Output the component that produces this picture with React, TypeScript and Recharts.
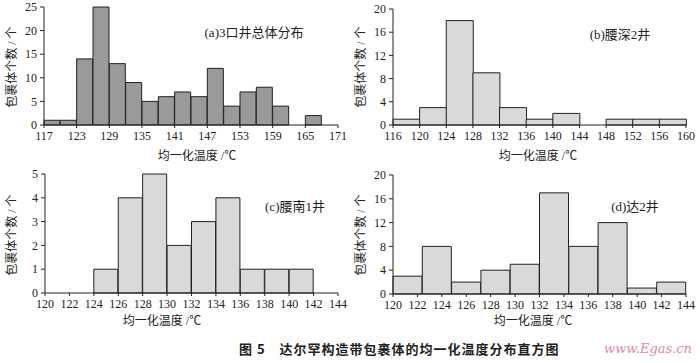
import { BarChart, Bar, XAxis, YAxis } from 'recharts';

// bin start temperatures (℃) and inclusion counts
const aStarts = [117, 120, 123, 126, 129, 132, 135, 138, 141, 144, 147, 150, 153, 156, 159, 162, 165, 168];
const aCounts = [1, 1, 14, 25, 13, 9, 5, 6, 7, 6, 12, 4, 7, 8, 4, 0, 2, 0];
const aTicksX = [117, 123, 129, 135, 141, 147, 153, 159, 165, 171];
const aTicksY = [0, 5, 10, 15, 20, 25];

const bStarts = [116, 120, 124, 128, 132, 136, 140, 144, 148, 152, 156];
const bCounts = [1, 3, 18, 9, 3, 1, 2, 0, 1, 1, 1];
const bTicksX = [116, 120, 124, 128, 132, 136, 140, 144, 148, 152, 156, 160];
const bTicksY = [0, 4, 8, 12, 16, 20];

const cStarts = [120, 122, 124, 126, 128, 130, 132, 134, 136, 138, 140, 142];
const cCounts = [0, 0, 1, 4, 5, 2, 3, 4, 1, 1, 1, 0];
const cTicksX = [120, 122, 124, 126, 128, 130, 132, 134, 136, 138, 140, 142, 144];
const cTicksY = [0, 1, 2, 3, 4, 5];

const dStarts = [120, 122.4, 124.8, 127.2, 129.6, 132, 134.4, 136.8, 139.2, 141.6];
const dCounts = [3, 8, 2, 4, 5, 17, 8, 12, 1, 2];
const dTicksX = [120, 122, 124, 126, 128, 130, 132, 134, 136, 138, 140, 142, 144];
const dTicksY = [0, 4, 8, 12, 16, 20];

const yTitle = '包裹体个数 / 个';
const xTitle = '均一化温度 /℃';
const caption = '图 5　达尔罕构造带包裹体的均一化温度分布直方图';

const serif = '"Liberation Serif", "Noto Sans CJK SC", serif';
const tickStyle = { fontSize: 12, fill: '#222', fontFamily: serif };

interface PanelProps {
  starts: number[];
  counts: number[];
  binWidth: number;
  ticksX: number[];
  ticksY: number[];
  fill: string;
  left: number;
  top: number;
  margin: { top: number; right: number; bottom: number; left: number };
}

function Panel({ starts, counts, binWidth, ticksX, ticksY, fill, left, top, margin }: PanelProps) {
  const data = starts.map((s, i) => ({ mid: s + binWidth / 2, count: counts[i] }));
  return (
    <div style={{ position: 'absolute', left, top }}>
      <BarChart width={350} height={165} data={data} margin={margin} barCategoryGap={0} barGap={0}>
        <XAxis
          type="number"
          dataKey="mid"
          domain={[ticksX[0], ticksX[ticksX.length - 1]]}
          ticks={ticksX}
          interval={0}
          tick={tickStyle}
          tickSize={3}
          tickMargin={3}
          height={20}
          stroke="#222"
        />
        <YAxis
          domain={[ticksY[0], ticksY[ticksY.length - 1]]}
          ticks={ticksY}
          interval={0}
          tick={tickStyle}
          tickSize={4}
          tickMargin={3}
          width={30}
          stroke="#222"
        />
        <Bar dataKey="count" fill={fill} stroke="#222" strokeWidth={1} isAnimationActive={false} />
      </BarChart>
    </div>
  );
}

function Text({ x, y, size, children, rotate, style }: { x: number; y: number; size: number; children: string; rotate?: boolean; style?: React.CSSProperties }) {
  return (
    <div
      style={{
        position: 'absolute',
        left: x - 100,
        top: y - size * 0.6,
        width: 200,
        textAlign: 'center',
        fontSize: size,
        lineHeight: 1.2,
        fontFamily: serif,
        color: '#222',
        whiteSpace: 'nowrap',
        transform: rotate ? 'rotate(-90deg)' : undefined,
        ...style,
      }}
    >
      {children}
    </div>
  );
}

export default function App() {
  return (
    <div style={{ position: 'absolute', left: 0, top: 0, width: 700, height: 363, background: '#fff', overflow: 'hidden' }}>
      <Panel starts={aStarts} counts={aCounts} binWidth={3} ticksX={aTicksX} ticksY={aTicksY} fill="#9a9a9a"
        left={0} top={0} margin={{ top: 7, right: 12, bottom: 20, left: 14 }} />
      <Panel starts={bStarts} counts={bCounts} binWidth={4} ticksX={bTicksX} ticksY={bTicksY} fill="#d9d9d9"
        left={350} top={0} margin={{ top: 9, right: 14, bottom: 20, left: 13 }} />
      <Panel starts={cStarts} counts={cCounts} binWidth={2} ticksX={cTicksX} ticksY={cTicksY} fill="#d9d9d9"
        left={0} top={165} margin={{ top: 9, right: 12, bottom: 17, left: 15 }} />
      <Panel starts={dStarts} counts={dCounts} binWidth={2.4} ticksX={dTicksX} ticksY={dTicksY} fill="#d9d9d9"
        left={350} top={165} margin={{ top: 10, right: 14, bottom: 16, left: 13 }} />

      <Text x={12} y={67} size={12} rotate>{yTitle}</Text>
      <Text x={361} y={67} size={12} rotate>{yTitle}</Text>
      <Text x={12} y={235} size={12} rotate>{yTitle}</Text>
      <Text x={361} y={235} size={12} rotate>{yTitle}</Text>

      <Text x={197} y={156} size={12}>{xTitle}</Text>
      <Text x={538} y={156} size={12}>{xTitle}</Text>
      <Text x={162} y={321} size={12}>{xTitle}</Text>
      <Text x={533} y={321} size={12}>{xTitle}</Text>

      <Text x={254} y={33} size={13}>(a)3口井总体分布</Text>
      <Text x={620} y={35} size={13}>(b)腰深2井</Text>
      <Text x={295} y={207} size={13}>(c)腰南1井</Text>
      <Text x={635} y={207} size={13}>(d)达2井</Text>

      <Text x={339} y={349} size={13} style={{ fontWeight: 'bold', fontFamily: '"Noto Sans CJK SC", sans-serif', letterSpacing: 1 }}>{caption}</Text>
      <Text x={648} y={349} size={13} style={{ color: '#e58aa6', fontStyle: 'italic', fontFamily: '"DejaVu Serif", serif' }}>www.Egas.cn</Text>
    </div>
  );
}
